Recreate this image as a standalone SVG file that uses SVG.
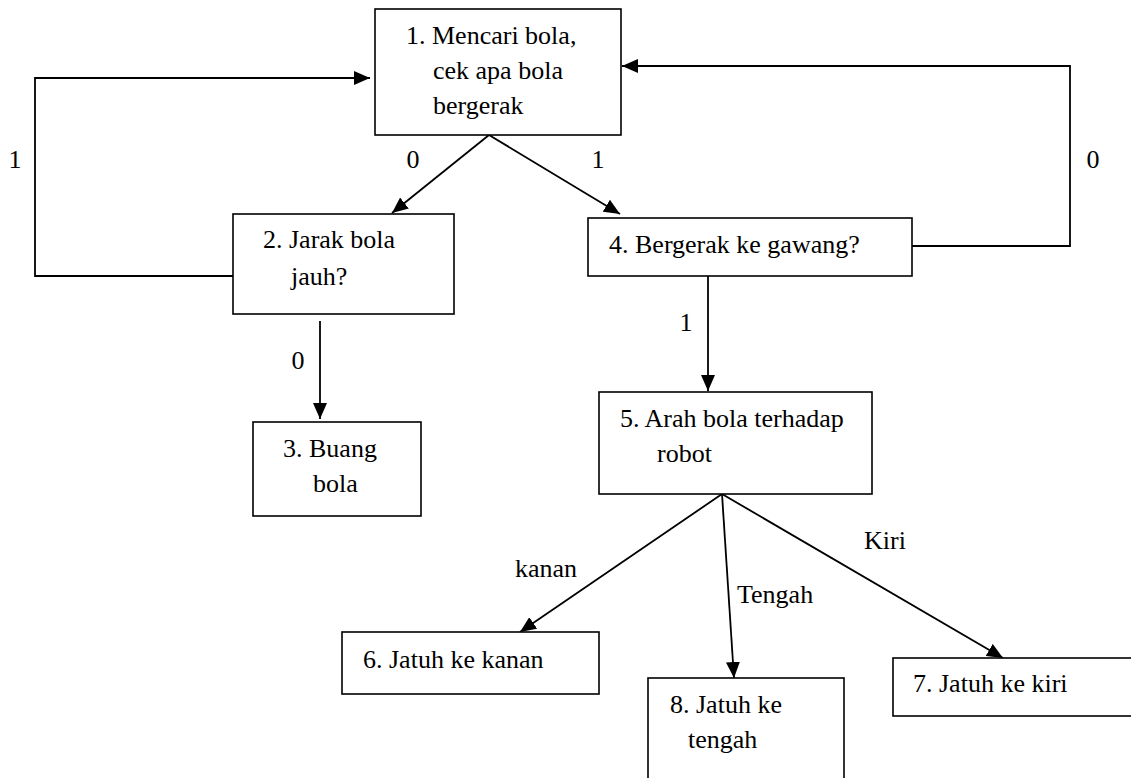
<svg xmlns="http://www.w3.org/2000/svg" width="1131" height="778" viewBox="0 0 1131 778">
<style>
.box{fill:#fff;stroke:#000;stroke-width:1.6}
.c{fill:none;stroke:#000;stroke-width:1.8}
.ca{fill:none;stroke:#000;stroke-width:1.8;marker-end:url(#ah)}
</style>
<defs>
<marker id="ah" markerUnits="userSpaceOnUse" markerWidth="16" markerHeight="14" refX="16" refY="7" orient="auto">
<path d="M0,0 L16,7 L0,14 z" fill="#000"/>
</marker>
</defs>
<rect width="1131" height="778" fill="#fff"/>
<g font-family="Liberation Serif, Times New Roman, serif" font-size="26" fill="#000">
<g id="connectors">
<polyline class="ca" points="233,276 35,276 35,78 370,78"/>
<polyline class="ca" points="912,246 1070,246 1070,66 622,66"/>
<line class="ca" x1="489" y1="135" x2="392" y2="213"/>
<line class="ca" x1="489" y1="135" x2="620" y2="214"/>
<line class="ca" x1="320" y1="321" x2="320" y2="419"/>
<line class="ca" x1="708" y1="276" x2="708" y2="391"/>
<line class="ca" x1="722" y1="494" x2="520" y2="632"/>
<line class="ca" x1="722" y1="494" x2="734" y2="678"/>
<line class="ca" x1="722" y1="494" x2="1003" y2="658"/>
<text x="15" y="168" text-anchor="middle">1</text>
<text x="413" y="168" text-anchor="middle">0</text>
<text x="598" y="168" text-anchor="middle">1</text>
<text x="1093" y="168" text-anchor="middle">0</text>
<text x="298" y="369" text-anchor="middle">0</text>
<text x="686" y="331" text-anchor="middle">1</text>
<text x="515" y="577">kanan</text>
<text x="737" y="603">Tengah</text>
<text x="864" y="549">Kiri</text>
</g>
<g id="node1">
<rect class="box" x="375" y="9" width="246" height="126"/>
<text x="406" y="44">1. Mencari bola,</text>
<text x="433" y="79">cek apa bola</text>
<text x="433" y="114">bergerak</text>
</g>
<g id="node2">
<rect class="box" x="233" y="214" width="221" height="100"/>
<text x="263" y="248">2. Jarak bola</text>
<text x="291" y="285">jauh?</text>
</g>
<g id="node3">
<rect class="box" x="253" y="422" width="168" height="94"/>
<text x="283" y="457">3. Buang</text>
<text x="313" y="492">bola</text>
</g>
<g id="node4">
<rect class="box" x="588" y="218" width="324" height="58"/>
<text x="609" y="253">4. Bergerak ke gawang?</text>
</g>
<g id="node5">
<rect class="box" x="599" y="392" width="273" height="102"/>
<text x="620" y="427">5. Arah bola terhadap</text>
<text x="657" y="462">robot</text>
</g>
<g id="node6">
<rect class="box" x="342" y="632" width="257" height="62"/>
<text x="363" y="668">6. Jatuh ke kanan</text>
</g>
<g id="node7">
<rect class="box" x="893" y="658" width="245" height="58"/>
<text x="913" y="692">7. Jatuh ke kiri</text>
</g>
<g id="node8">
<rect class="box" x="648" y="678" width="196" height="112"/>
<text x="670" y="713">8. Jatuh ke</text>
<text x="688" y="748">tengah</text>
</g>
</g>
</svg>
